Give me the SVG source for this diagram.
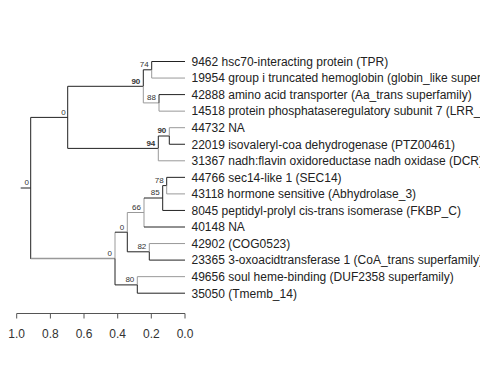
<svg xmlns="http://www.w3.org/2000/svg" width="480" height="384" viewBox="0 0 480 384">
<style>
.k{stroke:#222;stroke-width:1;fill:none}
.g{stroke:#999;stroke-width:1;fill:none}
.tip{font-family:"Liberation Sans",Arial,sans-serif;font-size:12px;fill:#222}
.nl{font-family:"Liberation Sans",Arial,sans-serif;font-size:8px;fill:#333;text-anchor:end}
.b{font-weight:bold}
.ax{font-family:"Liberation Sans",Arial,sans-serif;font-size:12px;fill:#333;text-anchor:middle}
</style>
<rect width="480" height="384" fill="#fff"/>
<g id="connectors">
<path class="k" d="M20.7 188H30.7"/>
<path class="k" d="M30.7 117.4V259"/>
<path class="k" d="M30.7 117.4H67.7"/>
<path class="g" d="M30.7 258.5H115" style="stroke-width:1.6"/>
<path class="k" d="M67.7 86.3V148.4"/>
<path class="k" d="M67.7 86.3H143.3"/>
<path class="k" d="M67.7 148.4H158.3"/>
<path class="k" d="M143.3 69.8V86.3"/>
<path class="g" d="M143.3 86.3V102.9"/>
<path class="k" d="M143.3 69.8H151.7"/>
<path class="g" d="M143.3 102.9H159"/>
<path class="k" d="M151.7 61.5V69.8"/>
<path class="g" d="M151.7 69.8V78.05"/>
<path class="k" d="M151.7 61.5H185"/>
<path class="g" d="M151.7 78.05H185"/>
<path class="k" d="M159 94.6V102.9"/>
<path class="g" d="M159 102.9V111.15"/>
<path class="k" d="M159 94.6H185"/>
<path class="g" d="M159 111.15H185"/>
<path class="k" d="M158.3 136V148.4"/>
<path class="g" d="M158.3 148.4V160.8"/>
<path class="k" d="M158.3 136H169.3"/>
<path class="g" d="M158.3 160.8H185"/>
<path class="g" d="M169.3 127.7V136"/>
<path class="k" d="M169.3 136V144.25"/>
<path class="g" d="M169.3 127.7H185"/>
<path class="k" d="M169.3 144.25H185"/>
<path class="g" d="M115 232.2V258.5"/>
<path class="k" d="M115 258.5V284.9"/>
<path class="k" d="M115 232.2H127.3"/>
<path class="k" d="M115 284.9H137.3"/>
<path class="g" d="M127.3 212.5V232.2"/>
<path class="k" d="M127.3 232.2V251.8"/>
<path class="g" d="M127.3 212.5H144"/>
<path class="k" d="M127.3 251.8H149.3"/>
<path class="g" d="M144 198V227"/>
<path class="k" d="M144 198H162.7"/>
<path class="k" d="M144 227H185"/>
<path class="k" d="M162.7 185.6V210.45"/>
<path class="k" d="M162.7 185.6H166.7"/>
<path class="k" d="M162.7 210.45H185"/>
<path class="k" d="M166.7 177.35V185.6"/>
<path class="g" d="M166.7 185.6V193.9"/>
<path class="k" d="M166.7 177.35H185"/>
<path class="g" d="M166.7 193.9H185"/>
<path class="g" d="M149.3 243.55V251.8"/>
<path class="k" d="M149.3 251.8V260.1"/>
<path class="g" d="M149.3 243.55H185"/>
<path class="k" d="M149.3 260.1H185"/>
<path class="g" d="M137.3 276.65V284.9"/>
<path class="k" d="M137.3 284.9V293.2"/>
<path class="g" d="M137.3 276.65H185"/>
<path class="k" d="M137.3 293.2H185"/>
</g>
<g id="node-labels">
<text class="nl" x="29" y="185">0</text>
<text class="nl" x="65.7" y="114.6">0</text>
<text class="nl b" x="140.3" y="83.6">90</text>
<text class="nl" x="148.7" y="67">74</text>
<text class="nl" x="156" y="100.2">88</text>
<text class="nl b" x="166.3" y="133.3">90</text>
<text class="nl b" x="155.3" y="145.6">94</text>
<text class="nl" x="163.7" y="182.9">78</text>
<text class="nl" x="159.7" y="195.3">85</text>
<text class="nl" x="141" y="209.8">66</text>
<text class="nl" x="124.3" y="229.5">0</text>
<text class="nl" x="146.3" y="249.1">82</text>
<text class="nl" x="112" y="255.8">0</text>
<text class="nl" x="134.3" y="282.2">80</text>
</g>
<g id="tips">
<text id="t9462" class="tip" x="191.5" y="65.8">9462 hsc70-interacting protein (TPR)</text>
<text id="t19954" class="tip" x="191.5" y="82.35">19954 group i truncated hemoglobin (globin_like superfamily)</text>
<text id="t42888" class="tip" x="191.5" y="98.9">42888 amino acid transporter (Aa_trans superfamily)</text>
<text id="t14518" class="tip" x="191.5" y="115.45">14518 protein phosphataseregulatory subunit 7 (LRR_8)</text>
<text id="t44732" class="tip" x="191.5" y="132">44732 NA</text>
<text id="t22019" class="tip" x="191.5" y="148.55">22019 isovaleryl-coa dehydrogenase (PTZ00461)</text>
<text id="t31367" class="tip" x="191.5" y="165.1">31367 nadh:flavin oxidoreductase nadh oxidase (DCR)</text>
<text id="t44766" class="tip" x="191.5" y="181.65">44766 sec14-like 1 (SEC14)</text>
<text id="t43118" class="tip" x="191.5" y="198.2">43118 hormone sensitive (Abhydrolase_3)</text>
<text id="t8045" class="tip" x="191.5" y="214.75">8045 peptidyl-prolyl cis-trans isomerase (FKBP_C)</text>
<text id="t40148" class="tip" x="191.5" y="231.3">40148 NA</text>
<text id="t42902" class="tip" x="191.5" y="247.85">42902 (COG0523)</text>
<text id="t23365" class="tip" x="191.5" y="264.4">23365 3-oxoacidtransferase 1 (CoA_trans superfamily)</text>
<text id="t49656" class="tip" x="191.5" y="280.95">49656 soul heme-binding (DUF2358 superfamily)</text>
<text id="t35050" class="tip" x="191.5" y="297.5">35050 (Tmemb_14)</text>
</g>
<g id="scale">
<path d="M16.7 313.5H185M16.7 313.5V318.5M50.4 313.5V318.5M84 313.5V318.5M117.7 313.5V318.5M151.3 313.5V318.5M185 313.5V318.5" stroke="#555" stroke-width="1" fill="none"/>
<text class="ax" x="16.7" y="337.5">1.0</text>
<text class="ax" x="50.4" y="337.5">0.8</text>
<text class="ax" x="84" y="337.5">0.6</text>
<text class="ax" x="117.7" y="337.5">0.4</text>
<text class="ax" x="151.3" y="337.5">0.2</text>
<text class="ax" x="185" y="337.5">0.0</text>
</g>
</svg>
